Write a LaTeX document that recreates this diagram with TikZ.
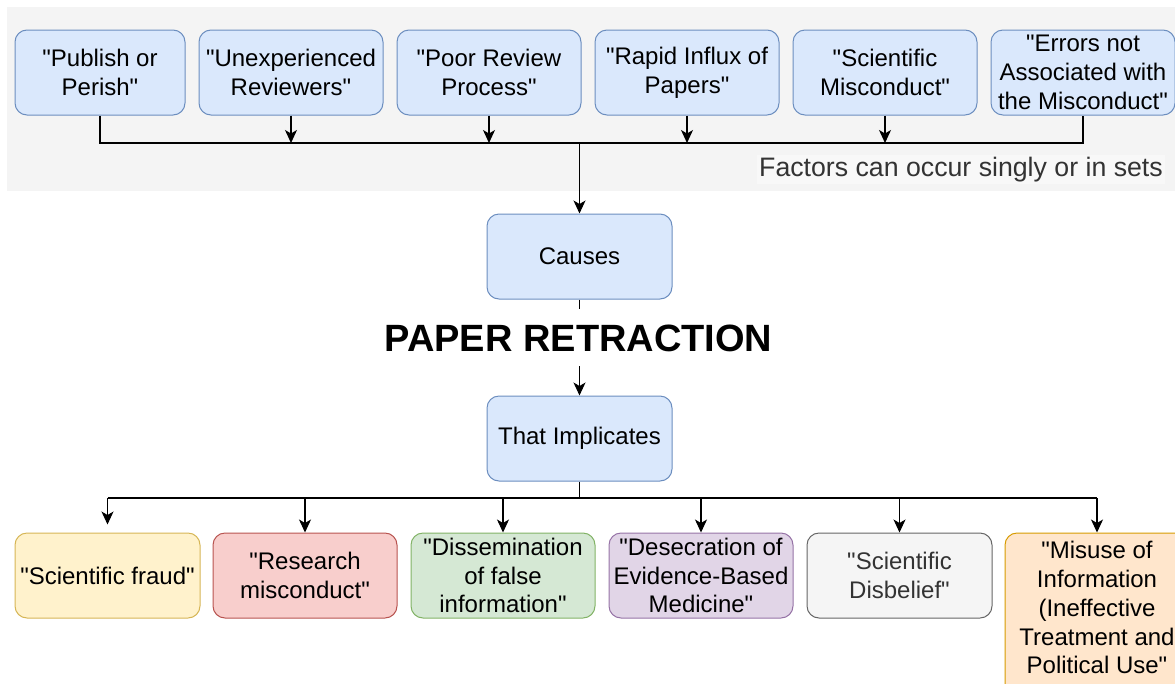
\documentclass[tikz,border=0pt]{standalone}
\usepackage{fontspec}
\setmainfont{Liberation Sans}[Ligatures=TeXOff]
\usetikzlibrary{arrows.meta}
\definecolor{bgGray}{HTML}{F4F4F4}
\definecolor{lblBg}{HTML}{F8F8F8}
\definecolor{blueF}{HTML}{DAE8FC}\definecolor{blueD}{HTML}{6C8EBF}
\definecolor{yelF}{HTML}{FFF2CC}\definecolor{yelD}{HTML}{D6B656}
\definecolor{redF}{HTML}{F8CECC}\definecolor{redD}{HTML}{B85450}
\definecolor{grnF}{HTML}{D5E8D4}\definecolor{grnD}{HTML}{82B366}
\definecolor{purF}{HTML}{E1D5E7}\definecolor{purD}{HTML}{9673A6}
\definecolor{gryF}{HTML}{F5F5F5}\definecolor{gryD}{HTML}{666666}
\definecolor{oraF}{HTML}{FFE6CC}\definecolor{oraD}{HTML}{D79B00}
\definecolor{darkTxt}{HTML}{333333}
\begin{document}
\begin{tikzpicture}[x=1pt,y=-1pt,
  box/.style={draw, rounded corners=12pt, line width=1pt, minimum height=85pt,
    minimum width=184pt, inner sep=0pt, align=center,
    font=\fontsize{24}{28.8}\selectfont, text=black},
  bluebox/.style={box, fill=blueF, draw=blueD},
  yelbox/.style={box, fill=yelF, draw=yelD},
  redbox/.style={box, fill=redF, draw=redD},
  grnbox/.style={box, fill=grnF, draw=grnD},
  purbox/.style={box, fill=purF, draw=purD},
  grybox/.style={box, fill=gryF, draw=gryD, text=darkTxt},
  orabox/.style={box, fill=oraF, draw=oraD},
  conn/.style={line width=1.1pt, draw=black},
  arr/.style={conn, -{Stealth[length=13pt,width=12pt,inset=3.5pt]}}
]
\useasboundingbox (0,0) rectangle (1175,683);
\clip (0,0) rectangle (1175,683);
\fill[bgGray] (7,7) rectangle (1175,191);

% top row
\node[bluebox, minimum width=170pt] (t1) at (100,72.5) {"Publish or\\Perish"};
\node[bluebox] (t2) at (291,72.5) {"Unexperienced\\Reviewers"};
\node[bluebox] (t3) at (489,72.5) {"Poor Review\\Process"};
\node[bluebox] (t4) at (687,72.5) {"Rapid Influx of\\Papers"};
\node[bluebox] (t5) at (885,72.5) {"Scientific\\Misconduct"};
\node[bluebox] (t6) at (1083,72.5) {"Errors not\\Associated with\\the Misconduct"};

\node[anchor=base east, fill=lblBg, text=darkTxt, inner sep=2pt,
  font=\fontsize{26.7}{32}\selectfont] (lbl) at (1165,176) {Factors can occur singly or in sets};

\coordinate (busT) at (0,143);
\draw[conn] (t1.south) |- (t6.south |- busT) -- (t6.south);
\foreach \n in {t2,t3,t4,t5}{\draw[arr] (\n.south) -- (\n.south |- busT);}

% middle
\node[bluebox, minimum width=185pt] (causes) at (579.5,256.5) {Causes};
\draw[arr] (causes.north |- busT) -- (causes.north);
\coordinate (stub) at (579.5,309);
\draw[conn] (causes.south) -- (stub);
\node[anchor=base, inner sep=0pt, font=\fontsize{38}{45}\selectfont\bfseries] (title) at (578.5,351) {PAPER RETRACTION};
\node[bluebox, minimum width=185pt] (impl) at (579.5,438.5) {That Implicates};
\coordinate (tarr) at (579.5,366);
\draw[arr] (tarr) -- (impl.north);

% bottom row
\node[yelbox, minimum width=185pt] (b1) at (107.5,575.5) {"Scientific fraud"};
\node[redbox] (b2) at (305,575.5) {"Research\\misconduct"};
\node[grnbox] (b3) at (503,575.5) {"Dissemination\\of false\\information"};
\node[purbox] (b4) at (701,575.5) {"Desecration of\\Evidence-Based\\Medicine"};
\node[grybox, minimum width=185pt] (b5) at (899.5,575.5) {"Scientific\\Disbelief"};
\node[orabox, minimum height=175pt] (b6) at (1097,620.5) {\raisebox{0pt}[\height][\dimexpr\depth+20pt\relax]{\begin{tabular}{@{}c@{}}"Misuse of\\Information\\(Ineffective\\Treatment and\\Political Use"\end{tabular}}};

\coordinate (busB) at (0,498);
\draw[conn] (impl.south) -- (impl.south |- busB);
\draw[conn] (b1.north |- busB) -- (b6.north |- busB);
\draw[arr, shorten >=8pt] (b1.north |- busB) -- (b1.north);
\foreach \n in {b2,b3,b4,b5,b6}{\draw[arr] (\n.north |- busB) -- (\n.north);}
\end{tikzpicture}
\end{document}
